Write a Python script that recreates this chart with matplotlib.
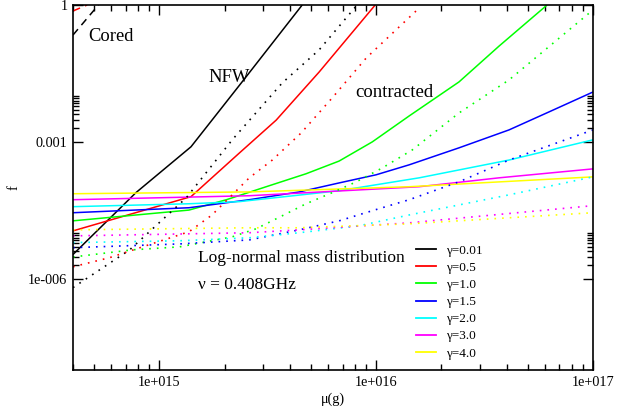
import matplotlib
matplotlib.use("Agg")
import matplotlib.pyplot as plt
from matplotlib.ticker import FixedLocator, NullFormatter
from matplotlib.lines import Line2D

plt.rcParams['font.family'] = ['Liberation Serif', 'DejaVu Serif']

# ---------------- data ----------------
gammas = ['0.01', '0.5', '1.0', '1.5', '2.0', '3.0', '4.0']
colors = ['#000000', '#ff0000', '#00ff00', '#0000ff', '#00ffff', '#ff00ff', '#ffff00']

# NFW (solid)
nfw_x = [
    [4.0e14, 7.8e14, 1.40e15, 2.47e15, 4.56e15],
    [4.0e14, 1.40e15, 2.34e15, 3.46e15, 5.46e15, 9.9e15],
    [4.0e14, 1.37e15, 2.04e15, 3.32e15, 4.75e15, 6.75e15, 9.6e15, 1.42e16, 2.41e16, 3.69e16, 6.14e16],
    [4.0e14, 1.37e15, 2.60e15, 4.42e15, 6.75e15, 1.0e16, 1.42e16, 2.41e16, 4.10e16, 6.27e16, 1e17],
    [4.0e14, 1.37e15, 2.34e15, 6.75e15, 1.58e16, 4.10e16, 1e17],
    [4.0e14, 2.60e15, 1.58e16, 3.69e16, 1e17],
    [4.0e14, 2.60e15, 1.42e16, 1e17],
]
nfw_f = [
    [3.4e-6, 7.7e-5, 7.8e-4, 0.024, 1.0],
    [1.12e-5, 6.3e-5, 5.7e-4, 3.0e-3, 0.034, 1.0],
    [1.86e-5, 3.2e-5, 5.4e-5, 1.15e-4, 2.0e-4, 3.8e-4, 1.0e-3, 3.7e-3, 0.0206, 0.126, 1.0],
    [2.8e-5, 3.6e-5, 5.4e-5, 8.0e-5, 1.26e-4, 1.90e-4, 3.14e-4, 7.4e-4, 1.83e-3, 4.54e-3, 0.0124],
    [3.8e-5, 4.4e-5, 4.9e-5, 8.5e-5, 1.63e-4, 4.0e-4, 1.11e-3],
    [5.4e-5, 6.6e-5, 1.04e-4, 1.63e-4, 2.56e-4],
    [7.3e-5, 8.0e-5, 1.04e-4, 1.71e-4],
]

# contracted (dotted)
con_x = [
    [4.0e14, 7.3e14, 1.33e15, 2.17e15, 3.69e15, 5.46e15, 8.17e15],
    [4.0e14, 5.9e14, 9.0e14, 1.37e15, 1.75e15, 2.60e15, 3.32e15, 4.51e15, 6.27e15, 9.0e15, 1.58e16],
    [4.0e14, 7.5e14, 1.24e15, 2.17e15, 2.80e15, 3.69e15, 4.75e15, 6.27e15, 8.09e15, 1.07e16, 1.47e16, 2.41e16, 4.10e16, 1e17],
    [4.0e14, 1.24e15, 2.60e15, 4.42e15, 6.75e15, 9.6e15, 1.42e16, 2.41e16, 4.10e16, 1e17],
    [4.0e14, 1.24e15, 2.60e15, 4.42e15, 8.36e15, 1.42e16, 4.10e16, 1e17],
    [4.0e14, 2.60e15, 4.42e15, 1.42e16, 2.60e16, 1e17],
    [4.0e14, 2.60e15, 4.42e15, 1.42e16, 1e17],
]
con_f = [
    [6.4e-7, 4.3e-6, 5.9e-5, 1.11e-3, 0.0196, 0.104, 1.0],
    [1.83e-6, 2.9e-6, 5.6e-6, 1.07e-5, 2.5e-5, 1.63e-4, 4.0e-4, 1.57e-3, 9.2e-3, 0.069, 0.86],
    [3.0e-6, 4.3e-6, 5.0e-6, 8.3e-6, 1.25e-5, 2.4e-5, 4.4e-5, 7.7e-5, 1.33e-4, 2.7e-4, 6.7e-4, 4.3e-3, 0.0228, 0.78],
    [4.8e-6, 5.8e-6, 7.1e-6, 1.18e-5, 1.86e-5, 3.1e-5, 5.4e-5, 1.33e-4, 4.0e-4, 1.83e-3],
    [6.2e-6, 6.8e-6, 7.9e-6, 1.02e-5, 1.45e-5, 2.5e-5, 6.9e-5, 1.71e-4],
    [8.7e-6, 1.02e-5, 1.18e-5, 1.68e-5, 2.2e-5, 4.0e-5],
    [1.18e-5, 1.31e-5, 1.31e-5, 1.60e-5, 2.8e-5],
]

# cored (dashed)
cored_x = [[4.0e14, 5.24e14], [4.0e14, 4.65e14]]
cored_f = [[0.22, 1.0], [0.74, 1.0]]
cored_colors = ['#000000', '#ff0000']

xticks = [1e15, 1e16, 1e17]
xticklabels = ['1e+015', '1e+016', '1e+017']
yticks = [1e-6, 1e-3, 1.0]
yticklabels = ['1e-006', '0.001', '1']

# ---------------- figure ----------------
W, H = 628, 407
fig = plt.figure(figsize=(W / 100, H / 100), dpi=100)
L, R, T, B = 73, 593, 5, 370
ax = fig.add_axes([L / W, 1 - B / H, (R - L) / W, (B - T) / H])
ax.set_xscale('log')
ax.set_yscale('log')

lw = 1.1
for xs, fs, c in zip(nfw_x, nfw_f, colors):
    ax.plot(xs, fs, color=c, lw=lw, solid_capstyle='butt')
for xs, fs, c in zip(con_x, con_f, colors):
    ax.plot(xs, fs, color=c, lw=1.2, linestyle=(0, (1, 3.6)))
for xs, fs, c in zip(cored_x, cored_f, cored_colors):
    ax.plot(xs, fs, color=c, lw=lw, linestyle=(0, (5, 3.5)))

ax.set_xlim(4e14, 1e17)
ax.set_ylim(1e-8, 1.0)

ax.xaxis.set_major_locator(FixedLocator(xticks))
ax.set_xticklabels(xticklabels)
xminor = [k * 10.0 ** e for e in (14, 15, 16) for k in range(2, 10)]
ax.xaxis.set_minor_locator(FixedLocator(xminor))
ax.xaxis.set_minor_formatter(NullFormatter())

ax.yaxis.set_major_locator(FixedLocator(yticks))
ax.set_yticklabels(yticklabels)
yminor = [k * 10.0 ** e for e in (-6, -3) for k in range(2, 11)]
ax.yaxis.set_minor_locator(FixedLocator(yminor))
ax.yaxis.set_minor_formatter(NullFormatter())

ax.tick_params(which='both', direction='in', top=True, right=True, width=1.0, labelsize=10.3, colors='black')
ax.tick_params(which='major', length=7.2, pad=4)
ax.tick_params(which='minor', length=4.3)
for s in ax.spines.values():
    s.set_linewidth(1.2)

ax.set_xlabel('μ(g)', fontsize=10.3, labelpad=3)
ax.set_ylabel('f', fontsize=10.3)
ax.yaxis.set_label_coords((20 - L) / (R - L), 0.5)


def ftext(px, py, s, size):
    fig.text(px / W, 1 - py / H, s, fontsize=size, ha='left', va='baseline')


ftext(88, 41, 'Cored', 13.3)
ftext(208, 82, 'NFW', 13.3)
ftext(355, 97, 'contracted', 13.5)
ftext(198, 262, 'Log-normal mass distribution', 12.5)
ftext(198, 289, 'ν = 0.408GHz', 12.5)

handles = [Line2D([], [], color=c, lw=1.3) for c in colors]
labels = ['γ=' + g for g in gammas]
leg = ax.legend(handles, labels, loc='upper left',
                bbox_to_anchor=(413 / W, 1 - 242 / H), bbox_transform=fig.transFigure,
                frameon=False, fontsize=9.5, handlelength=1.55, handletextpad=0.75,
                labelspacing=0.37, borderpad=0.2, borderaxespad=0)

fig.savefig('out.png', dpi=100)
